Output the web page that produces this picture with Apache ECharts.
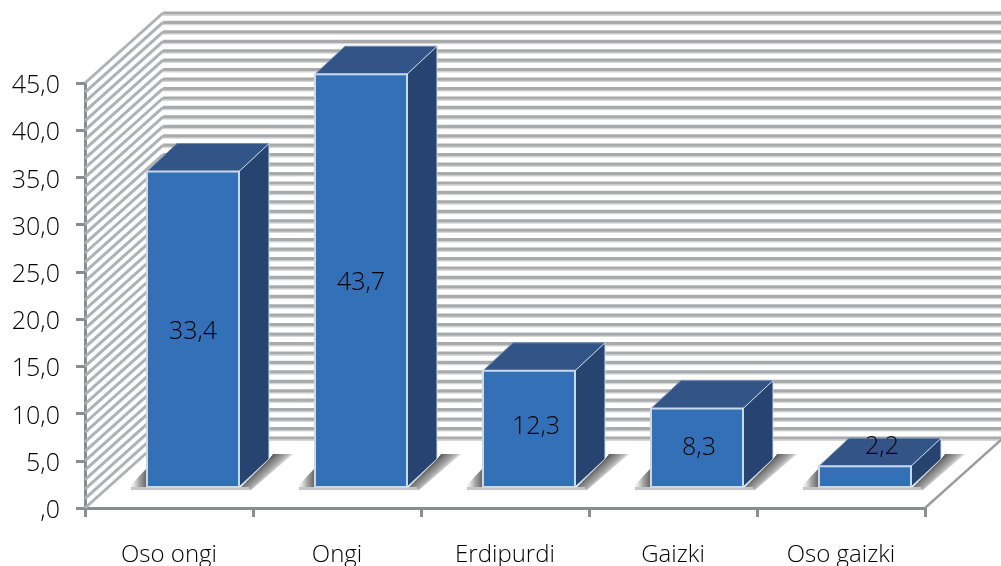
<!DOCTYPE html>
<html>
<head>
<meta charset="utf-8">
<style>html,body{margin:0;padding:0;background:#fff}#c{width:1001px;height:566px}</style>
<script src="https://cdn.jsdelivr.net/npm/echarts@6/dist/echarts.min.js"></script>
</head>
<body>
<div id="c"></div>
<script>
const categories = ['Oso ongi', 'Ongi', 'Erdipurdi', 'Gaizki', 'Oso gaizki'];
const values = [33.4, 43.7, 12.3, 8.3, 2.2];
const valueLabels = ['33,4', '43,7', '12,3', '8,3', '2,2'];
const wallLevels = [0,1,2,3,4,5,6,7,8,9,10,11,12,13,14,15,16,17,18,19,20,21,22,23,24,25,26,27,28,29,30,31,32,33,34,35,36,37,38,39,40,41,42,43,44,45];

const FONT = '"Open Sans"';
const WALL_DX = 78, WALL_DY = -70;
const BAR_DX = 24, BAR_DY = -21, DEPTH_DX = 30, DEPTH_DY = -28, BAR_FRAC = 92 / 168;
const LABEL_NUDGE = [[0, 3], [0, 2], [7, -2], [2, 0], [17, 1]];

function wallItem(params, api) {
  const cs = params.coordSys;
  const y = api.coord([0, api.value(0)])[1];
  const x0 = cs.x, bx = x0 + WALL_DX, by = y + WALL_DY, ex = cs.x + cs.width + WALL_DX;
  const children = [
    { type: 'line', shape: { x1: bx, y1: by + 2.2, x2: ex, y2: by + 2.2 }, style: { stroke: '#d8d8d8', lineWidth: 1.4 } },
    { type: 'line', shape: { x1: bx, y1: by, x2: ex, y2: by }, style: { stroke: '#a9aaac', lineWidth: 3.2 } },
    { type: 'line', shape: { x1: x0, y1: y, x2: bx, y2: by }, style: { stroke: '#b0b1b3', lineWidth: 3 } }
  ];
  if (api.value(0) === 0) {
    const fx = cs.x + cs.width;
    children.push({ type: 'line', shape: { x1: fx, y1: y, x2: fx + WALL_DX, y2: by }, style: { stroke: '#9a9c9f', lineWidth: 2.4 } });
  }
  return { type: 'group', children };
}

function barFrame(api, i) {
  const c = api.coord([i, api.value(1)]);
  const base = api.coord([i, 0]);
  const w = api.size([1, 0])[0] * BAR_FRAC;
  const cx = c[0] + BAR_DX;
  return { l: cx - w / 2, r: cx + w / 2, cx, t: c[1] + BAR_DY, b: base[1] + BAR_DY };
}

function fade(x, y, x2, y2) {
  return { type: 'linear', global: true, x, y, x2, y2,
    colorStops: [
      { offset: 0, color: 'rgba(95,95,95,1)' },
      { offset: 0.4, color: 'rgba(135,135,135,0.75)' },
      { offset: 1, color: 'rgba(255,255,255,0)' }
    ] };
}

function shadowItem(params, api) {
  const f = barFrame(api, api.value(0));
  const sx = f.r + 15, sy = f.b - 14;
  return {
    type: 'group',
    children: [
      { type: 'polygon',
        shape: { points: [[f.r, f.b + 2], [f.r + DEPTH_DX, f.b + DEPTH_DY], [f.r + DEPTH_DX + 4, f.b + DEPTH_DY - 5], [f.r + DEPTH_DX + 24, f.b + DEPTH_DY - 5], [f.r + 12, f.b + 3]] },
        style: { fill: fade(sx, sy, sx + 14, sy + 15) } },
      { type: 'polygon',
        shape: { points: [[f.l - 20, f.b + 2], [f.l, f.b - 19], [f.l, f.b + 2]] },
        style: { fill: fade(f.l, f.b, f.l - 20, f.b) } },
      { type: 'rect', shape: { x: f.l - 16, y: f.b, width: f.r - f.l + 26, height: 3 },
        style: { fill: '#c4c6c8' } }
    ]
  };
}

function barItem(params, api) {
  const i = api.value(0);
  const f = barFrame(api, i);
  const edge = '#c9d9ea';
  const n = LABEL_NUDGE[i];
  return {
    type: 'group',
    children: [
      { type: 'polygon', shape: { points: [[f.l, f.t], [f.l + DEPTH_DX, f.t + DEPTH_DY], [f.r + DEPTH_DX, f.t + DEPTH_DY], [f.r, f.t]] },
        style: { fill: '#335486', stroke: '#6f8bb0', lineWidth: 1 } },
      { type: 'polygon', shape: { points: [[f.r, f.t], [f.r + DEPTH_DX, f.t + DEPTH_DY], [f.r + DEPTH_DX, f.b + DEPTH_DY], [f.r, f.b]] },
        style: { fill: '#27436f', stroke: edge, lineWidth: 1 } },
      { type: 'rect', shape: { x: f.l, y: f.t, width: f.r - f.l, height: f.b - f.t },
        style: { fill: '#3470b7', stroke: edge, lineWidth: 2 } },
      { type: 'text', x: f.cx + n[0], y: (i === 4 ? f.t - 20 : (f.t + f.b) / 2) + n[1],
        style: { text: valueLabels[i], font: '300 25px ' + FONT, fill: '#000', align: 'center', verticalAlign: 'middle' } }
    ]
  };
}

const chart = echarts.init(document.getElementById('c'), null, { renderer: 'canvas' });
chart.setOption({
  animation: false,
  backgroundColor: '#fff',
  grid: { left: 85, right: 76, top: 83, bottom: 58, containLabel: false, outerBoundsMode: 'none' },
  xAxis: {
    type: 'category', data: categories, boundaryGap: true,
    axisLine: { lineStyle: { color: '#8a8d90', width: 3 } },
    axisTick: { show: true, length: 9, lineStyle: { color: '#8a8d90', width: 3 } },
    axisLabel: { color: '#000', fontFamily: FONT, fontWeight: 300, fontSize: 24, margin: 35, interval: 0 },
    splitLine: { show: false }
  },
  yAxis: {
    type: 'value', min: 0, max: 45, interval: 5,
    axisLine: { show: true, lineStyle: { color: '#8a8d90', width: 3 } },
    axisTick: { show: true, length: 9, lineStyle: { color: '#8a8d90', width: 3 } },
    axisLabel: { color: '#000', fontFamily: FONT, fontWeight: 300, fontSize: 25, margin: 25, verticalAlign: 'top', lineHeight: 6,
      formatter: v => v === 0 ? ',0' : v.toFixed(1).replace('.', ',') },
    splitLine: { show: false }
  },
  series: [
    { type: 'custom', z: 1, silent: true, clip: false, coordinateSystem: 'cartesian2d',
      data: wallLevels.map(v => [v]), encode: { y: 0 }, renderItem: wallItem },
    { type: 'custom', z: 2, silent: true, clip: false, coordinateSystem: 'cartesian2d',
      data: values.map((v, i) => [i, v]), encode: { x: 0, y: 1 }, renderItem: shadowItem },
    { type: 'custom', z: 3, silent: true, clip: false, coordinateSystem: 'cartesian2d',
      data: values.map((v, i) => [i, v]), encode: { x: 0, y: 1 }, renderItem: barItem }
  ]
});
</script>
</body>
</html>
